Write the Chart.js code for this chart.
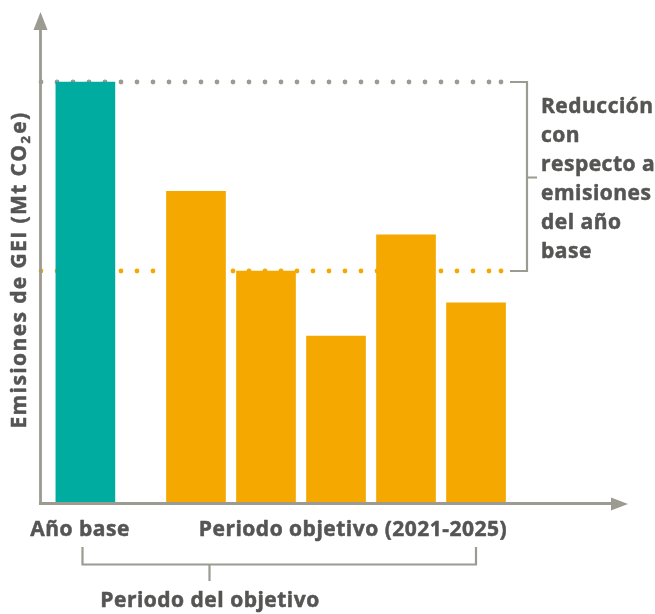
<!DOCTYPE html>
<html>
<head>
<meta charset="utf-8">
<script src="https://cdn.jsdelivr.net/npm/chart.js@4/dist/chart.umd.min.js"></script>
<style>
  html, body { margin: 0; padding: 0; background: #ffffff; }
  #wrap { width: 655px; height: 614px; }
</style>
</head>
<body>
<div id="wrap"><canvas id="c" width="655" height="614"></canvas></div>
<script>
// ---- data ----
const categories = ['Año base', '2021', '2022', '2023', '2024', '2025'];
const emissions = [100, 74, 55, 39.5, 63.6, 47.4];   // relative emissions (base = 100)
const baseLevel = 100;      // base-year emissions
const targetLevel = 55;     // target emissions level
const yAxisTitle = ['Emisiones de GEI (Mt CO', '2', 'e)'];
const xLabelBase = 'Año base';
const xLabelPeriod = 'Periodo objetivo (2021-2025)';
const bracketLabel = 'Periodo del objetivo';
const reductionLabel = ['Reducción', 'con', 'respecto a', 'emisiones', 'del año', 'base'];

// ---- styling / layout ----
const TEAL = '#00ac9f';
const ORANGE = '#f5a800';
const GREY = '#9b9b91';
const TEXT = '#555554';
const FAM = '"Open Sans", "DejaVu Sans", sans-serif';
const FONT = 'bold 21px ' + FAM;
const TFONT = 'bold 21px ' + FAM;
const SUBFONT = 'bold 13px ' + FAM;
const BASE_SLOT = 2019.42; // horizontal slot of the base-year bar on the year axis

const points = categories.map((c, i) => ({ x: i === 0 ? BASE_SLOT : Number(c), y: emissions[i] }));
const colors = categories.map((c, i) => i === 0 ? TEAL : ORANGE);

function heavyText(ctx, t, x, y) {
  ctx.fillText(t, x, y);
  ctx.strokeText(t, x, y);
}

const decor = {
  id: 'decor',
  beforeDatasetsDraw(chart) {
    const ctx = chart.ctx, y = chart.scales.y, a = chart.chartArea;
    function dots(val, color, xEnd) {
      const py = y.getPixelForValue(val);
      ctx.save();
      ctx.fillStyle = color;
      let x = a.left;
      for (; x <= xEnd - 10; x += 16) {
        ctx.beginPath(); ctx.arc(x, py, 2.4, 0, Math.PI * 2); ctx.fill();
      }
      ctx.beginPath(); ctx.arc(xEnd, py, 2.4, 0, Math.PI * 2); ctx.fill();
      ctx.restore();
      return py;
    }
    dots(baseLevel, GREY, 501);
    dots(targetLevel, ORANGE, 501);
  },
  afterDatasetsDraw(chart) {
    const ctx = chart.ctx, y = chart.scales.y, a = chart.chartArea;
    const yTop = y.getPixelForValue(baseLevel);
    const yTgt = y.getPixelForValue(targetLevel);
    ctx.save();
    // axes
    ctx.strokeStyle = GREY; ctx.fillStyle = GREY; ctx.lineWidth = 2.8;
    ctx.beginPath();
    ctx.moveTo(a.left - 0.5, a.bottom + 1.5); ctx.lineTo(a.left - 0.5, a.top + 14);
    ctx.moveTo(a.left - 2, a.bottom + 1.5); ctx.lineTo(a.right - 14, a.bottom + 1.5);
    ctx.stroke();
    ctx.beginPath();
    ctx.moveTo(a.left - 0.5, a.top); ctx.lineTo(a.left - 7.5, a.top + 18); ctx.lineTo(a.left + 6.5, a.top + 18); ctx.closePath();
    ctx.fill();
    ctx.beginPath();
    ctx.moveTo(a.right, a.bottom + 2); ctx.lineTo(a.right - 17, a.bottom - 4.5); ctx.lineTo(a.right - 17, a.bottom + 8.5); ctx.closePath();
    ctx.fill();

    // right bracket
    ctx.lineWidth = 2.2;
    ctx.beginPath();
    ctx.moveTo(510, yTop); ctx.lineTo(527, yTop); ctx.lineTo(527, yTgt); ctx.lineTo(510, yTgt);
    const ym = (yTop + yTgt) / 2 + 1;
    ctx.moveTo(527, ym); ctx.lineTo(537, ym);
    ctx.stroke();

    // bottom bracket
    ctx.beginPath();
    ctx.moveTo(82.5, 547); ctx.lineTo(82.5, 564.5); ctx.lineTo(476, 564.5); ctx.lineTo(476, 547);
    ctx.moveTo(209.5, 564.5); ctx.lineTo(209.5, 581);
    ctx.stroke();

    // texts
    ctx.fillStyle = TEXT; ctx.strokeStyle = TEXT; ctx.lineWidth = 0.5; ctx.lineJoin = 'round';
    ctx.font = FONT; ctx.textBaseline = 'middle';
    if ('letterSpacing' in ctx) ctx.letterSpacing = '0.5px';
    ctx.textAlign = 'center';
    heavyText(ctx, xLabelBase, 80, 530);
    heavyText(ctx, xLabelPeriod, 353, 530);
    heavyText(ctx, bracketLabel, 210, 601);
    ctx.textAlign = 'left';
    reductionLabel.forEach((t, i) => heavyText(ctx, t, 541, 107 + i * 29));

    // y axis title
    if ('letterSpacing' in ctx) ctx.letterSpacing = '1.4px';
    ctx.translate(20, 270); ctx.rotate(-Math.PI / 2);
    ctx.font = TFONT;
    const w1 = ctx.measureText(yAxisTitle[0]).width;
    ctx.font = SUBFONT;
    const w2 = ctx.measureText(yAxisTitle[1]).width;
    ctx.font = TFONT;
    const w3 = ctx.measureText(yAxisTitle[2]).width;
    let sx = -(w1 + w2 + w3 + 1) / 2;
    ctx.textAlign = 'left';
    heavyText(ctx, yAxisTitle[0], sx, 0); sx += w1;
    ctx.font = SUBFONT;
    heavyText(ctx, yAxisTitle[1], sx, 6); sx += w2 + 1;
    ctx.font = TFONT;
    heavyText(ctx, yAxisTitle[2], sx, 0);
    ctx.restore();
  }
};

new Chart(document.getElementById('c'), {
  type: 'bar',
  data: {
    datasets: [{
      data: points,
      backgroundColor: colors,
      barThickness: 59,
      borderWidth: 0
    }]
  },
  options: {
    responsive: false,
    animation: false,
    layout: { padding: { left: 41, right: 27, top: 12, bottom: 112 } },
    plugins: { legend: { display: false }, tooltip: { enabled: false } },
    scales: {
      x: { type: 'linear', offset: false, min: 2018.786, max: 2027.171, display: false },
      y: { min: 0, max: 116.67, display: false }
    }
  },
  plugins: [decor]
});
</script>
</body>
</html>
